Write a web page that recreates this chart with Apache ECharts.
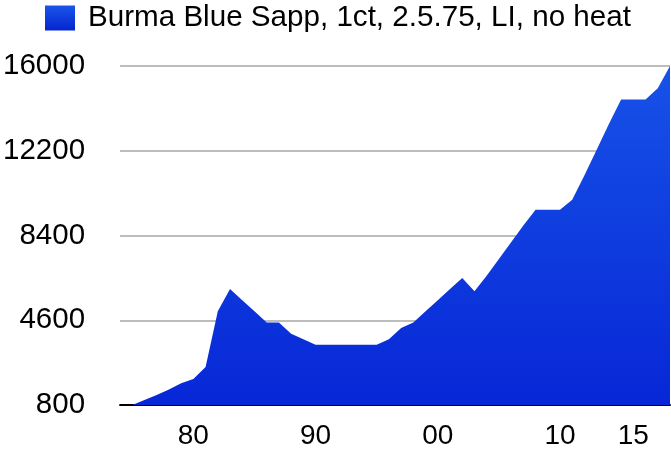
<!DOCTYPE html>
<html>
<head>
<meta charset="utf-8">
<script src="https://cdn.jsdelivr.net/npm/echarts@6/dist/echarts.min.js"></script>
<style>
html,body{margin:0;padding:0;background:#fff;}
#chart{width:671px;height:450px;}
</style>
</head>
<body>
<div id="chart"></div>
<script>
const seriesName = 'Burma Blue Sapp, 1ct, 2.5.75, LI, no heat';
const years = ['1974','1975','1976','1977','1978','1979','1980','1981','1982','1983',
  '1984','1985','1986','1987','1988','1989','1990','1991','1992','1993',
  '1994','1995','1996','1997','1998','1999','2000','2001','2002','2003',
  '2004','2005','2006','2007','2008','2009','2010','2011','2012','2013',
  '2013.5','2014','2015','2016','2017','2018'];
const prices = [800,800,1020,1250,1500,1770,1970,2500,5000,6000,
  5500,5000,4500,4500,4000,3750,3500,3500,3500,3500,
  3500,3500,3750,4250,4500,5000,5500,6000,6500,5900,
  6600,7350,8100,8850,9550,9550,9550,10000,11100,12250,
  13400,14500,14500,14500,15000,16000];
const shownYears = ['1980','1990','2000','2010','2015'];
const yMin = 800, yMax = 16000, yStep = 3800;

const chart = echarts.init(document.getElementById('chart'));
const font = '"Liberation Sans", Arial, Helvetica, sans-serif';
chart.setOption({
  animation: false,
  backgroundColor: '#fff',
  legend: {
    left: 45, top: 3, padding: 0,
    itemWidth: 30, itemHeight: 25,
    icon: 'rect',
    textStyle: {fontFamily: font, fontSize: 29.6, color: '#000', padding: [0,0,0,8]},
    data: [{name: seriesName, itemStyle: {color: new echarts.graphic.LinearGradient(0,0,0,1,[
      {offset:0,color:'#1a55e8'},{offset:1,color:'#0424d0'}])}}]
  },
  grid: {left: 118, right: 1, top: 66, bottom: 45, containLabel: false},
  xAxis: {
    type: 'category',
    data: years,
    boundaryGap: false,
    axisLine: {show: true, lineStyle: {color: '#000', width: 2}},
    axisTick: {show: false},
    splitLine: {show: false},
    axisLabel: {
      interval: (i, v) => shownYears.indexOf(v) >= 0,
      formatter: v => v.slice(2),
      fontFamily: font, fontSize: 28, color: '#000', margin: 17
    }
  },
  yAxis: {
    type: 'value',
    min: yMin, max: yMax, interval: yStep,
    axisLine: {show: false},
    axisTick: {show: false},
    splitLine: {show: true, lineStyle: {color: '#bdbdbd', width: 2}},
    axisLabel: {fontFamily: font, fontSize: 29.5, color: '#000', margin: 35,
      formatter: v => String(v)}
  },
  series: [{
    name: seriesName,
    type: 'line',
    data: prices,
    symbol: 'none',
    lineStyle: {width: 0},
    areaStyle: {
      opacity: 1,
      color: new echarts.graphic.LinearGradient(0,0,0,1,[
        {offset:0,color:'#1752e8'},{offset:1,color:'#0727d6'}])
    }
  }]
});
</script>
</body>
</html>
